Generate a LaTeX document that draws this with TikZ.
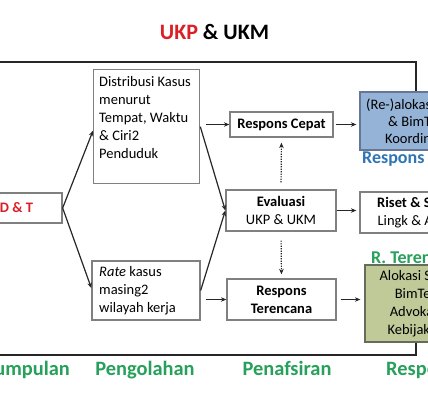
\documentclass[tikz,border=0pt]{standalone}
\usepackage{fontspec}
\setmainfont{Carlito}
\usetikzlibrary{arrows.meta,calc}
\definecolor{ukred}{RGB}{218,32,38}
\definecolor{ukgreen}{RGB}{38,160,90}
\definecolor{ukblue}{RGB}{46,117,182}
\definecolor{bluefill}{RGB}{149,179,215}
\definecolor{bluedraw}{RGB}{100,120,150}
\definecolor{greenfill}{RGB}{192,202,152}
\definecolor{greendraw}{RGB}{100,108,90}
\definecolor{boxgray}{RGB}{128,128,128}
\newcommand\fsbox{\fontsize{14.5pt}{18pt}\selectfont}
\newcommand\fslab{\fontsize{18pt}{21pt}\selectfont}
\newcommand\fsbot{\fontsize{20.4pt}{24pt}\selectfont}
\newcommand\fstitle{\fontsize{22pt}{26pt}\selectfont}
\tikzset{
  box/.style={draw=boxgray, line width=1.3pt, fill=white, inner sep=0pt, align=center, font=\fsbox},
  arr/.style={-{Stealth[length=5.5pt,width=4.5pt]}, line width=1.2pt, black!85},
  dotarr/.style={arr, dash pattern=on 1.2pt off 1.3pt},
  frame/.style={line width=1.8pt, black!85},
  lab/.style={inner sep=0pt, font=\fslab\bfseries},
  bot/.style={inner sep=0pt, font=\fsbot\bfseries, text=ukgreen}
}
\begin{document}
\begin{tikzpicture}[x=1pt,y=-1pt]
\useasboundingbox (0,0) rectangle (428,400);
\clip (0,0) rectangle (428,400);
\fill[white] (0,0) rectangle (428,400);

\node[font=\fstitle\bfseries] (title) at (214.5,32) {\textcolor{ukred}{UKP} \& UKM};

% boxes
\node[box, minimum width=91pt, minimum height=30pt, text=ukred, font=\fsbox\bfseries] (ldt) at (16.5,208) {D \& T};
\node[box, minimum width=106pt, minimum height=114pt, anchor=north west] (dist) at (93,69) {};
\node[anchor=north west, align=left, inner sep=0pt, font=\fsbox] (distT) at (99,76) {Distribusi Kasus\\menurut\\Tempat, Waktu\\\& Ciri2\\Penduduk};
\node[box, minimum width=108pt, minimum height=59pt] (rate) at (146,290.5) {};
\node[anchor=west, align=left, inner sep=0pt, font=\fsbox] (rateT) at (99,291) {\textit{Rate} kasus\\masing2\\wilayah kerja};
\node[box, minimum width=103pt, minimum height=25pt, font=\fsbox\bfseries] (rc) at (281.5,124.5) {Respons Cepat};
\node[box, minimum width=110pt, minimum height=41pt] (ev) at (281,210.5) {\textbf{Evaluasi}\\UKP \& UKM};
\node[box, minimum width=109pt, minimum height=41pt, font=\fsbox\bfseries] (rt) at (281.5,299.5) {Respons\\Terencana};
\node[box, draw=bluedraw, fill=bluefill, minimum width=112pt, minimum height=58pt, font=\fontsize{14.5pt}{17pt}\selectfont] (blue) at (416,121) {(Re-)alokasi SDM\\\& BimTek\\Koordinasi};
\node[box, minimum width=112pt, minimum height=41pt] (riset) at (416,212.5) {\textbf{Riset \& Studi}\\Lingk \& Agen};
\node[box, draw=greendraw, fill=greenfill, minimum width=102pt, minimum height=77pt] (green) at (416,303.5) {Alokasi SDM\\BimTek\\Advokasi\\Kebijakan};

% labels
\node[lab, anchor=base west, text=ukblue] (lrc) at (362,163) {Respons Cepat};
\node[lab, anchor=base west, text=ukgreen] (lrt) at (371,263) {R. Terencana};
\node[bot, anchor=base east] (s1) at (70,375) {Pengumpulan};
\node[bot, anchor=base] (s2) at (145,375) {Pengolahan};
\node[bot, anchor=base] (s3) at (287,375) {Penafsiran};
\node[bot, anchor=base west] (s4) at (386,375) {Respons};

% frame lines
\coordinate (ftl) at (0,62);
\coordinate (fbl) at (0,355);
\draw[frame] (ftl) -| (blue.north);
\draw[frame] (fbl) -| (green.south);

% connectors
\draw[arr] (ldt.east) -- ($(dist.north west)!0.535!(dist.south west)$);
\draw[arr] (ldt.east) -- ($(rate.north west)!0.46!(rate.south west)$);
\draw[arr] (dist.east) -- (ev.west);
\draw[arr] (rate.east) -- (ev.west);
\draw[arr, shorten <=6pt] (dist.east |- rc.west) -- (rc.west);
\draw[arr, shorten <=2pt, shorten >=3pt] (rc.east) -- (blue.west |- rc.east);
\draw[arr, shorten >=3pt] (ev.east) -- (riset.west |- ev.east);
\draw[arr, shorten <=5pt] (rate.east |- rt.west) -- (rt.west);
\draw[arr, shorten <=4pt, shorten >=4pt] (rt.east) -- (green.west |- rt.east);
\draw[dotarr, shorten <=7pt, shorten >=5pt] (ev.north) -- (rc.south);
\draw[dotarr, shorten <=9pt, shorten >=4pt] (ev.south) -- (rt.north);
\end{tikzpicture}
\end{document}
